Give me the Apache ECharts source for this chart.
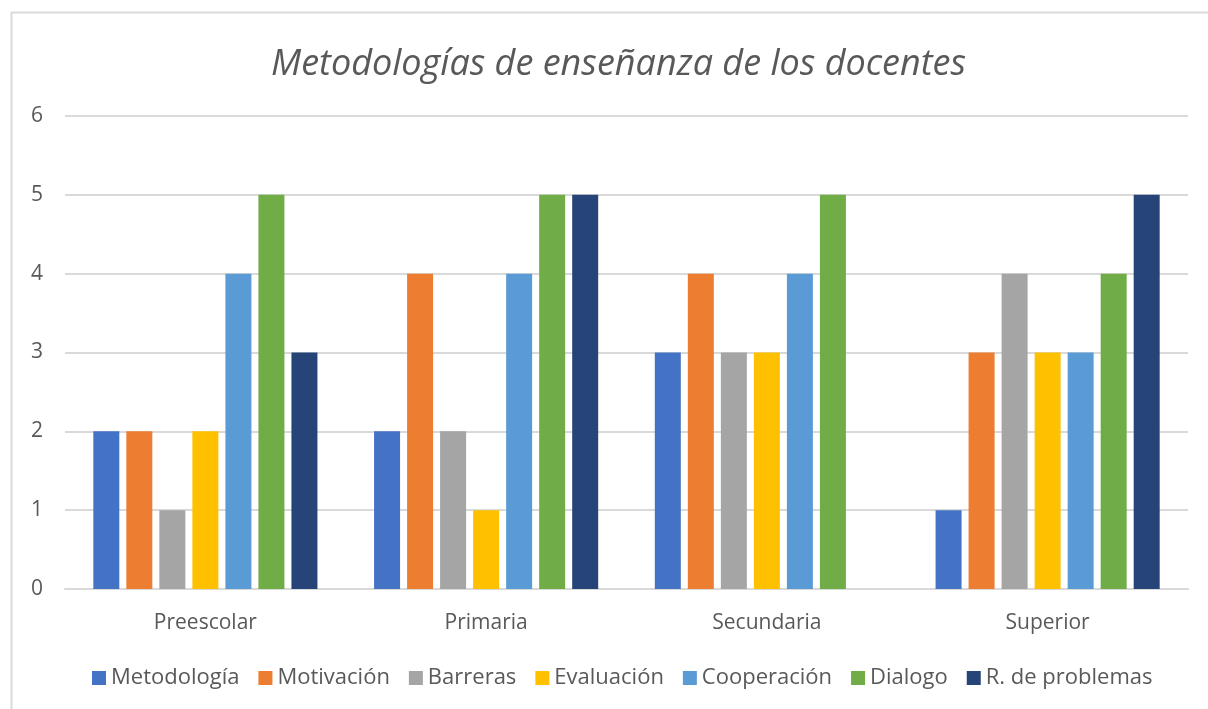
<!DOCTYPE html>
<html><head><meta charset="utf-8">
<script src="https://cdn.jsdelivr.net/npm/echarts@6/dist/echarts.min.js"></script>
<style>html,body{margin:0;padding:0;background:#fff;}#c{width:1208px;height:709px;}</style>
</head><body><div id="c"></div>
<script>
const categories = ['Preescolar', 'Primaria', 'Secundaria', 'Superior'];
const seriesNames = ['Metodología', 'Motivación', 'Barreras', 'Evaluación', 'Cooperación', 'Dialogo', 'R. de problemas'];
const metodologia = [2, 2, 3, 1];
const motivacion = [2, 4, 4, 3];
const barreras = [1, 2, 3, 4];
const evaluacion = [2, 1, 3, 3];
const cooperacion = [4, 4, 4, 3];
const dialogo = [5, 5, 5, 4];
const rProblemas = [3, 5, 0, 5];
const yTicks = [0, 1, 2, 3, 4, 5, 6];
const colors = ['#4472C4', '#ED7D31', '#A5A5A5', '#FFC000', '#5B9BD5', '#70AD47', '#264478'];
const values = [metodologia, motivacion, barreras, evaluacion, cooperacion, dialogo, rProblemas];
const font = '"Open Sans", "Noto Sans", sans-serif';

const chart = echarts.init(document.getElementById('c'), null, {renderer: 'canvas'});
chart.setOption({
  animation: false,
  color: colors,
  graphic: [{
    type: 'rect', shape: {x: 11.5, y: 12.5, width: 1210, height: 720},
    style: {fill: 'none', stroke: '#d9d9d9', lineWidth: 2}, silent: true
  }],
  title: {
    text: 'Metodologías de enseñanza de los docentes',
    left: 266, top: 42,
    textStyle: {fontFamily: font, fontStyle: 'italic', fontWeight: 'normal', fontSize: 36, color: '#595959'}
  },
  legend: {
    bottom: 15, left: 87,
    itemWidth: 14, itemHeight: 14, itemGap: 19,
    icon: 'rect',
    textStyle: {fontFamily: font, fontSize: 22, color: '#595959'},
    data: seriesNames
  },
  grid: {left: 65, right: 20, top: 116, bottom: 120},
  xAxis: {
    type: 'category', data: categories,
    axisLine: {lineStyle: {color: '#d9d9d9', width: 2}},
    axisTick: {show: false},
    axisLabel: {fontFamily: font, fontSize: 21, color: '#595959', margin: 24}
  },
  yAxis: {
    type: 'value', min: 0, max: 6, interval: 1,
    axisLine: {show: false}, axisTick: {show: false},
    splitLine: {lineStyle: {color: '#d9d9d9', width: 2}},
    axisLabel: {fontFamily: font, fontSize: 21, color: '#595959', margin: 22,
      formatter: v => yTicks.includes(v) ? String(v) : ''}
  },
  series: seriesNames.map((n, i) => ({
    name: n, type: 'bar', data: values[i],
    barWidth: 26, barGap: '27%',
    itemStyle: {color: colors[i]}
  }))
});
</script></body></html>
